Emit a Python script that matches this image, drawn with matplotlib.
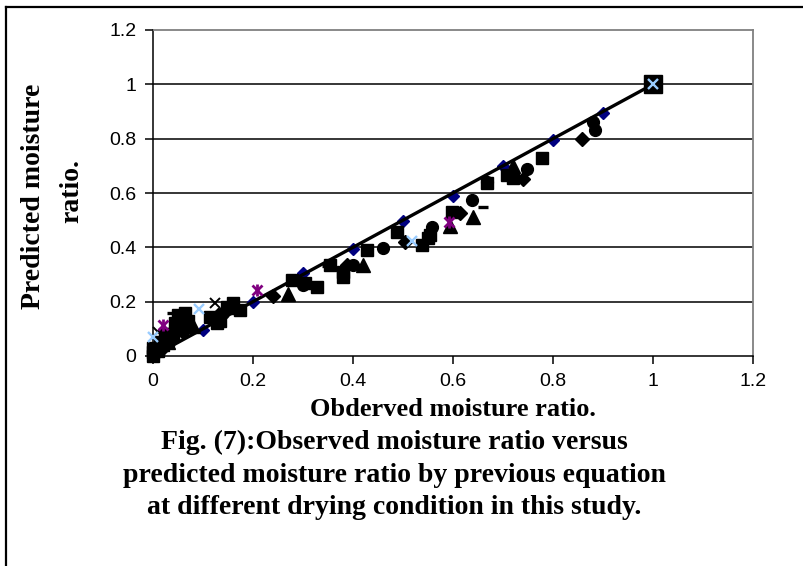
#!/usr/bin/env python3
# -*- coding: utf-8 -*-
"""
Observed vs predicted moisture ratio (Fig. 7)
"""

import numpy as np
import matplotlib
matplotlib.use('Agg')
import matplotlib.pyplot as plt

# ---- data (observed, predicted) ----
lineObs = [0.0, 0.1, 0.2, 0.3, 0.4, 0.5, 0.6, 0.7, 0.8, 0.9, 1.0]
linePred = [0.0, 0.097, 0.197, 0.305, 0.395, 0.497, 0.59, 0.70, 0.795, 0.894, 1.0]

squareObs = [0.778, 0.708, 0.72, 0.668, 0.598, 0.554, 0.55, 0.538, 0.488, 0.428,
             0.38, 0.38, 0.354, 0.328, 0.304, 0.278, 0.16, 0.174, 0.148, 0.128,
             0.114, 0.0, 0.01, 0.02, 0.03, 0.04, 0.05, 0.06, 0.05, 0.065, 0.0,
             0.015, 0.0, 0.025, 0.045, 0.07, 0.135, 0.155]
squarePred = [0.728, 0.666, 0.655, 0.636, 0.53, 0.445, 0.435, 0.41, 0.456, 0.39,
              0.29, 0.31, 0.335, 0.255, 0.27, 0.28, 0.195, 0.17, 0.18, 0.12,
              0.143, 0.0, 0.02, 0.04, 0.06, 0.08, 0.10, 0.12, 0.15, 0.16, 0.03,
              0.05, 0.015, 0.08, 0.12, 0.13, 0.13, 0.175]

endObs = [1.0]
endPred = [1.0]

diamondObs = [0.858, 0.74, 0.614, 0.504, 0.388, 0.24, 0.13, 0.06, 0.02]
diamondPred = [0.80, 0.65, 0.525, 0.42, 0.335, 0.22, 0.15, 0.09, 0.03]

circleObs = [0.884, 0.88, 0.748, 0.668, 0.638, 0.558, 0.46, 0.40, 0.30, 0.14, 0.12, 0.04]
circlePred = [0.832, 0.86, 0.69, 0.64, 0.575, 0.475, 0.397, 0.335, 0.26, 0.16, 0.14, 0.07]

triangleObs = [0.72, 0.64, 0.594, 0.42, 0.27, 0.08, 0.03]
trianglePred = [0.70, 0.51, 0.48, 0.335, 0.23, 0.11, 0.05]

dashObs = [0.66, 0.348, 0.038]
dashPred = [0.55, 0.33, 0.158]

crossObs = [0.124, 0.01]
crossPred = [0.195, 0.09]

blueCrossObs = [0.0, 0.092, 0.518, 1.0]
blueCrossPred = [0.07, 0.173, 0.423, 1.0]

starObs = [0.208, 0.592, 0.02]
starPred = [0.243, 0.493, 0.115]

ticks = [0, 0.2, 0.4, 0.6, 0.8, 1.0, 1.2]
tickLabels = ['0', '0.2', '0.4', '0.6', '0.8', '1', '1.2']

serif = 'Liberation Serif'
sans = 'Liberation Sans'

fig = plt.figure(figsize=(8.04, 5.66), dpi=100)
ax = fig.add_axes([153/804, 210/566, 600/804, 326/566])

# navy points with the 1:1 line over them (markers not clipped, like excel)
ax.plot(lineObs, linePred, linestyle='none', marker='D', ms=6, color='#000080', zorder=2, clip_on=False)
ax.plot([0, 1], [0, 1], color='black', lw=2.4, zorder=3)

ax.plot(squareObs, squarePred, 's', ms=8, color='black', zorder=4, clip_on=False)
ax.plot(endObs, endPred, 's', ms=12.5, color='black', zorder=4, clip_on=False)
ax.plot(diamondObs, diamondPred, 'D', ms=7, color='black', zorder=4, clip_on=False)
ax.plot(circleObs, circlePred, 'o', ms=8.5, color='black', zorder=4, clip_on=False)
ax.plot(triangleObs, trianglePred, '^', ms=9.5, color='black', zorder=4, clip_on=False)
ax.plot(dashObs, dashPred, '_', ms=6.5, mew=2.4, color='black', zorder=4, clip_on=False)
ax.plot(crossObs, crossPred, 'x', ms=7, mew=1.4, color='black', zorder=4, clip_on=False)
ax.plot(blueCrossObs, blueCrossPred, 'x', ms=7, mew=1.7, color='#99CCFF', zorder=5, clip_on=False)
# excel style asterisk = x plus vertical bar
ax.plot(starObs, starPred, 'x', ms=7, mew=2, color='#800080', zorder=5, clip_on=False)
ax.plot(starObs, starPred, '|', ms=8, mew=2, color='#800080', zorder=5, clip_on=False)

ax.set_xlim(0, 1.2)
ax.set_ylim(0, 1.2)
ax.set_xticks(ticks)
ax.set_yticks(ticks)
ax.set_xticklabels(tickLabels, fontfamily=sans, fontsize=14)
ax.set_yticklabels(tickLabels, fontfamily=sans, fontsize=14)
ax.tick_params(direction='out', length=6, width=1.1, color='black', pad=6)

for v in ticks[1:-1]:
    ax.axhline(v, color='black', lw=1.1, zorder=1)

ax.spines['left'].set_color('black')
ax.spines['bottom'].set_color('black')
ax.spines['left'].set_linewidth(1.1)
ax.spines['bottom'].set_linewidth(1.1)
ax.spines['top'].set_color('#808080')
ax.spines['right'].set_color('#808080')
ax.spines['top'].set_linewidth(1.3)
ax.spines['right'].set_linewidth(1.3)
for sp in ax.spines.values():
    sp.set_zorder(1)

# axis titles
fig.text(34/804, 1 - 196/566, 'Predicted moisture', rotation=90, ha='center', va='center',
         fontfamily=serif, fontweight='bold', fontsize=20)
fig.text(72/804, 1 - 191/566, 'ratio.', rotation=90, ha='center', va='center',
         fontfamily=serif, fontweight='bold', fontsize=20)
fig.text(453/804, 1 - 410/566, 'Obderved moisture ratio.', ha='center', va='center',
         fontfamily=serif, fontweight='bold', fontsize=19)

# caption
caption = ['Fig. (7):Observed moisture ratio versus',
           'predicted moisture ratio by previous equation',
           'at different drying condition in this study.']
capY = [442, 475, 508]
for line, y in zip(caption, capY):
    fig.text(394/804, 1 - y/566, line, ha='center', va='center',
             fontfamily=serif, fontweight='bold', fontsize=20)

# outer frame (top and left edges)
fig.add_artist(plt.Line2D([6/804, 1], [1 - 7/566, 1 - 7/566], color='black', lw=1.6))
fig.add_artist(plt.Line2D([6/804, 6/804], [0, 1 - 7/566], color='black', lw=1.6))

fig.savefig('out.png', dpi=100)
